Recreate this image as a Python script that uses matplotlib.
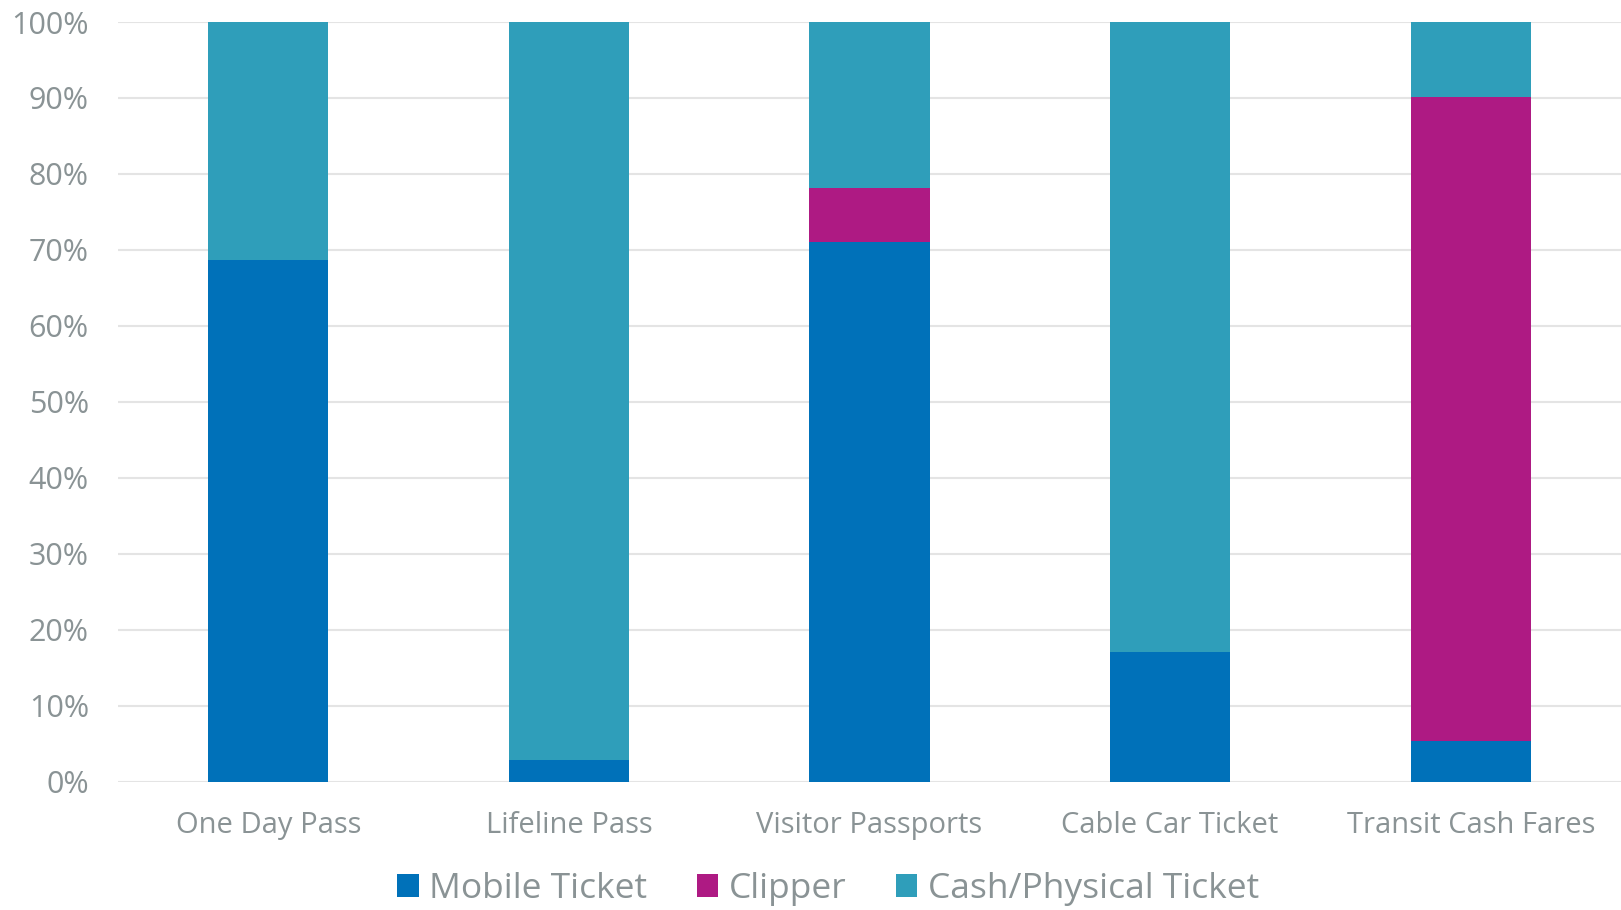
import matplotlib
matplotlib.use("Agg")
import matplotlib.pyplot as plt
from matplotlib.patches import Patch

categories = ["One Day Pass", "Lifeline Pass", "Visitor Passports", "Cable Car Ticket", "Transit Cash Fares"]
series_names = ["Mobile Ticket", "Clipper", "Cash/Physical Ticket"]
mobile = [68.7, 2.9, 71.0, 17.1, 5.3]
clipper = [0.0, 0.0, 7.2, 0.0, 84.8]
cash = [31.3, 97.1, 21.8, 82.9, 9.9]
yticks = [0, 10, 20, 30, 40, 50, 60, 70, 80, 90, 100]
ytick_labels = [f"{v}%" for v in yticks]

colors = ["#0071B9", "#AE1A83", "#2F9EBA"]
text_color = "#8A9395"
grid_color = "#E4E4E4"

plt.rcParams['font.family'] = ['Open Sans', 'DejaVu Sans']

fig = plt.figure(figsize=(16.21, 9.10), dpi=100)
ax = fig.add_axes([0.0728, 0.141, 1 - 0.0728, 0.9758 - 0.141])

x = list(range(len(categories)))
w = 0.4
bottom1 = mobile
bottom2 = [m + c for m, c in zip(mobile, clipper)]
ax.bar(x, mobile, width=w, color=colors[0], zorder=3)
ax.bar(x, clipper, width=w, bottom=bottom1, color=colors[1], zorder=3)
ax.bar(x, cash, width=w, bottom=bottom2, color=colors[2], zorder=3)

ax.set_xlim(-0.5, len(categories) - 0.5)
ax.set_ylim(0, 100)
ax.set_yticks(yticks)
ax.set_yticklabels(ytick_labels)
ax.set_xticks(x)
ax.set_xticklabels(categories)
ax.yaxis.grid(True, color=grid_color, linewidth=1.5, zorder=0)
ax.set_axisbelow(True)
for s in ax.spines.values():
    s.set_visible(False)
ax.tick_params(axis='both', length=0, labelcolor=text_color)
ax.tick_params(axis='x', pad=21, labelsize=21)
ax.tick_params(axis='y', pad=21, labelsize=22)

handles = [Patch(facecolor=c, label=n) for c, n in zip(colors, series_names)]
leg = fig.legend(handles=handles, loc='center', bbox_to_anchor=(0.511, 0.023), ncol=3,
                 frameon=False, fontsize=25.5, handlelength=0.6, handleheight=0.6,
                 handletextpad=0.3, columnspacing=1.4, borderaxespad=0)
for t in leg.get_texts():
    t.set_color(text_color)

fig.savefig("out.png", dpi=100)
